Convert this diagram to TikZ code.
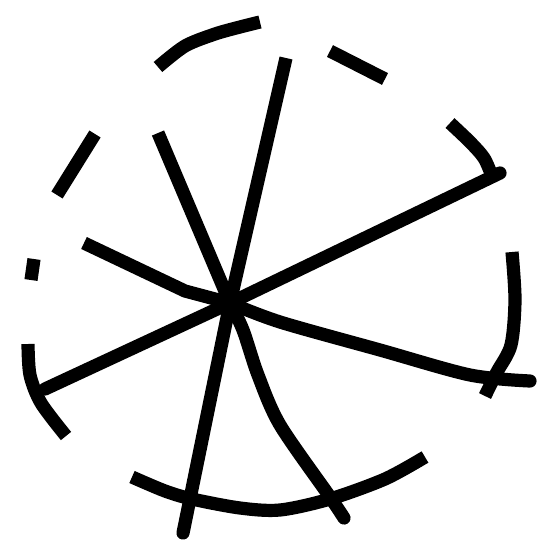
\documentclass[tikz,border=0pt]{standalone}
\usetikzlibrary{positioning}
\begin{document}
\begin{tikzpicture}[x=0.025cm, y=-0.025cm,
    rim/.style={line width=0.33cm, line cap=butt, line join=round},
    spoke/.style={line width=0.33cm, line cap=round, line join=round}]
    \useasboundingbox (0,0) rectangle (560,560);

    % Hub
    \coordinate (hub) at (230,303);

    % Rim pieces
    \draw[rim] plot[smooth] coordinates {(158,67) (185,46) (215,34) (240,27) (260,22)};
    \draw[rim] (330,51) -- (385,79);
    \draw[rim] plot[smooth] coordinates {(450,123) (470,142) (484,158) (492,176)};
    \draw[rim] plot[smooth] coordinates {(512,252) (515,300) (511,345) (497,372) (485,396)};
    \draw[rim] plot[smooth] coordinates {(132,477) (165,491) (192,499) (240,508) (280,510) (330,499) (385,479) (425,457)};
    \draw[rim] plot[smooth] coordinates {(28,344) (30,375) (41,403) (66,436)};
    \draw[rim] (34,259) -- (31,280);
    \draw[rim] (57,195) -- (95,134);

    % Spoke ends
    \coordinate (up) at (286,58);
    \coordinate (upleft) at (158,133);
    \coordinate (left) at (84,243);
    \coordinate (upright) at (500,173);
    \coordinate (downleft) at (45,389);
    \coordinate (right) at (530,381);
    \coordinate (down) at (183,533);
    \coordinate (downright) at (344,518);

    % Spokes
    \draw[spoke, line cap=butt] (hub) -- (up);
    \draw[spoke, line cap=butt] (hub) -- (upleft);
    \draw[spoke, line cap=butt] (hub) -- (185,291) -- (left);
    \draw[spoke] (hub) -- (upright);
    \draw[spoke] (hub) -- (downleft);
    \draw[spoke] plot[smooth] coordinates {(hub) (280,322) (380,350) (470,375) (right)};
    \draw[spoke] (hub) -- (down);
    \draw[spoke] plot[smooth] coordinates {(hub) (243,330) (258,375) (280,425) (330,497) (downright)};
\end{tikzpicture}
\end{document}
